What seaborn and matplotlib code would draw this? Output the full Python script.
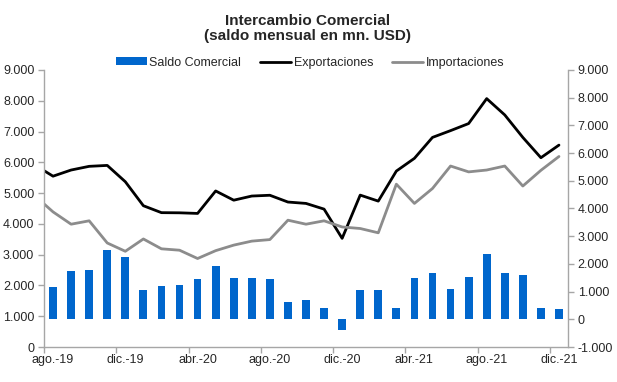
import numpy as np
import matplotlib
matplotlib.use("Agg")
import matplotlib.pyplot as plt
from matplotlib.ticker import FuncFormatter, MultipleLocator, FixedLocator
from matplotlib.patches import Patch
from matplotlib.lines import Line2D
import seaborn as sns

# months shown for the bars (ago.-19 .. dic.-21)
months = ["ago.-19", "sep.-19", "oct.-19", "nov.-19", "dic.-19",
          "ene.-20", "feb.-20", "mar.-20", "abr.-20", "may.-20", "jun.-20",
          "jul.-20", "ago.-20", "sep.-20", "oct.-20", "nov.-20", "dic.-20",
          "ene.-21", "feb.-21", "mar.-21", "abr.-21", "may.-21", "jun.-21",
          "jul.-21", "ago.-21", "sep.-21", "oct.-21", "nov.-21", "dic.-21"]

# the lines start one month earlier (jul.-19), cut off by the left axis
line_months = ["jul.-19"] + months

saldo = [1170, 1760, 1780, 2500, 2240, 1060, 1210, 1240, 1470, 1930, 1500,
         1500, 1470, 610, 690, 410, -370, 1070, 1070, 410, 1500, 1680, 1100,
         1540, 2370, 1680, 1600, 410, 380]

exportaciones = [5910, 5550, 5750, 5870, 5900, 5370, 4590, 4365, 4360, 4340,
                 5070, 4770, 4905, 4930, 4710, 4665, 4480, 3530, 4935, 4740,
                 5716, 6130, 6810, 7030, 7260, 8070, 7540, 6810, 6150, 6560]

importaciones = [4910, 4390, 3990, 4100, 3380, 3110, 3510, 3190, 3145, 2875,
                 3130, 3310, 3440, 3490, 4120, 3990, 4100, 3900, 3850, 3710,
                 5290, 4665, 5150, 5880, 5690, 5750, 5880, 5230, 5740, 6190]

label_every = 4

sns.set_theme(style="white")
plt.rcParams['font.family'] = ['Liberation Sans', 'DejaVu Sans']

blue = "#0066CC"
gray = "#8C8C8C"
axis_col = "#A6A6A6"
text_col = "#262626"

fig = plt.figure(figsize=(6.17, 3.82), dpi=100)
ax = fig.add_axes([44 / 617, 1 - 347 / 382, (568 - 44) / 617, (347 - 70) / 382])
ax2 = ax.twinx()

# bars on the secondary (right) axis
sns.barplot(x=months, y=saldo, order=months, ax=ax2, color=blue,
            saturation=1, width=0.43, linewidth=0)

# lines on the primary (left) axis
line_pos = np.arange(len(line_months)) - 1
sns.lineplot(x=line_pos, y=exportaciones, ax=ax, color="black", linewidth=2.0)
sns.lineplot(x=line_pos, y=importaciones, ax=ax, color=gray, linewidth=2.0)

ax.set_zorder(ax2.get_zorder() + 1)
ax.patch.set_visible(False)

ax.set_ylim(0, 9000)
ax2.set_ylim(-1000, 9000)
ax.set_xlim(-0.5, len(months) - 0.5)

fmt = FuncFormatter(lambda v, p: f"{v:,.0f}".replace(",", "."))
for a in (ax, ax2):
    a.yaxis.set_major_locator(MultipleLocator(1000))
    a.yaxis.set_major_formatter(fmt)
    a.set_xlabel("")
    a.set_ylabel("")
    for s in a.spines.values():
        s.set_color(axis_col)
        s.set_linewidth(1.0)
    a.spines["top"].set_visible(False)

ax.spines["right"].set_visible(False)
ax2.spines["left"].set_visible(False)
ax2.spines["bottom"].set_visible(False)

# labels at category centres, tick marks at category boundaries
label_idx = list(range(0, len(months), label_every))
ax.xaxis.set_major_locator(FixedLocator(label_idx))
ax.set_xticklabels([months[i] for i in label_idx])
ax.xaxis.set_minor_locator(FixedLocator([i - 0.5 for i in label_idx]))

ax.tick_params(axis="x", which="major", length=0, pad=5, labelsize=9, labelcolor=text_col)
ax.tick_params(axis="x", which="minor", length=4, width=1, color=axis_col, direction="out", bottom=True)
ax.tick_params(axis="y", length=4, width=1, color=axis_col, direction="out", left=True,
               labelsize=9, labelcolor=text_col, pad=3)
ax2.tick_params(axis="y", length=4, width=1, color=axis_col, direction="out", right=True,
                labelsize=9, labelcolor=text_col, pad=3)

fig.text(308 / 617, 1 - 28.7 / 382, "Intercambio Comercial\n(saldo mensual en mn. USD)",
         ha="center", va="center", fontsize=11, fontweight="bold", color=text_col,
         linespacing=1.05)

handles = [Patch(facecolor=blue, edgecolor="none"),
           Line2D([], [], color="black", linewidth=2.0),
           Line2D([], [], color=gray, linewidth=2.0)]
fig.legend(handles, ["Saldo Comercial", "Exportaciones", "Importaciones"],
           loc="center", bbox_to_anchor=(310 / 617, 1 - 62.7 / 382), ncol=3,
           frameon=False, fontsize=9, handlelength=2.5, handleheight=0.6,
           handletextpad=0.2, columnspacing=1.5, borderpad=0,
           labelcolor=text_col)

fig.savefig("out.png", dpi=100)
